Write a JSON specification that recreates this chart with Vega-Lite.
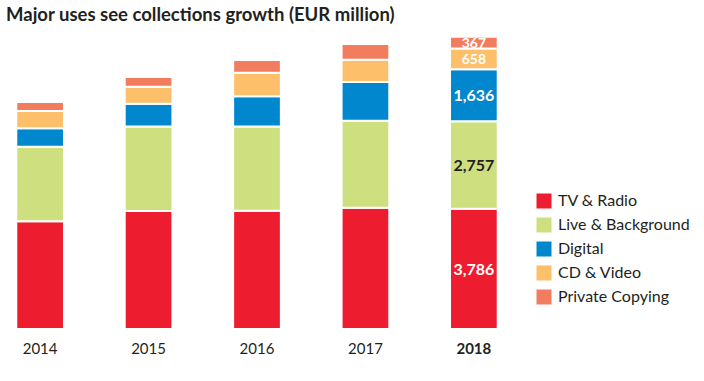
{
  "$schema": "https://vega.github.io/schema/vega-lite/v6.json",
  "width": 514,
  "height": 300,
  "autosize": {"type": "none"},
  "padding": {"left": 0, "top": 29, "right": 190, "bottom": 52},
  "background": "white",
  "config": {"view": {"stroke": null}, "font": "Lato"},
  "title": {"text": "Major uses see collections growth (EUR million)", "anchor": "start", "frame": "bounds", "fontSize": 18.5, "fontWeight": "bold", "color": "#231F20", "dx": 6, "offset": 5},
  "data": {"values": [
    {"year": "2014", "use": "TV & Radio", "value": 3393},
    {"year": "2014", "use": "Live & Background", "value": 2350},
    {"year": "2014", "use": "Digital", "value": 580},
    {"year": "2014", "use": "CD & Video", "value": 545},
    {"year": "2014", "use": "Private Copying", "value": 284},
    {"year": "2015", "use": "TV & Radio", "value": 3717},
    {"year": "2015", "use": "Live & Background", "value": 2662},
    {"year": "2015", "use": "Digital", "value": 718},
    {"year": "2015", "use": "CD & Video", "value": 536},
    {"year": "2015", "use": "Private Copying", "value": 305},
    {"year": "2016", "use": "TV & Radio", "value": 3723},
    {"year": "2016", "use": "Live & Background", "value": 2655},
    {"year": "2016", "use": "Digital", "value": 954},
    {"year": "2016", "use": "CD & Video", "value": 740},
    {"year": "2016", "use": "Private Copying", "value": 400},
    {"year": "2017", "use": "TV & Radio", "value": 3821},
    {"year": "2017", "use": "Live & Background", "value": 2740},
    {"year": "2017", "use": "Digital", "value": 1219},
    {"year": "2017", "use": "CD & Video", "value": 699},
    {"year": "2017", "use": "Private Copying", "value": 498},
    {"year": "2018", "use": "TV & Radio", "value": 3786},
    {"year": "2018", "use": "Live & Background", "value": 2757},
    {"year": "2018", "use": "Digital", "value": 1636},
    {"year": "2018", "use": "CD & Video", "value": 658},
    {"year": "2018", "use": "Private Copying", "value": 367}
  ]},
  "transform": [
    {"calculate": "indexof(['TV & Radio','Live & Background','Digital','CD & Video','Private Copying'], datum.use)", "as": "rank"}
  ],
  "layer": [
    {
      "mark": {"type": "bar", "stroke": "white", "strokeWidth": 2},
      "encoding": {
        "x": {"field": "year", "type": "ordinal", "scale": {"paddingInner": 0.56, "paddingOuter": 0.15},
          "axis": {"title": null, "domain": false, "ticks": false, "labelAngle": 0, "labelFontSize": 15, "labelColor": "#231F20", "labelPadding": 12,
            "labelFontWeight": {"condition": {"test": "datum.value == '2018'", "value": "bold"}, "value": "normal"}}},
        "y": {"field": "value", "type": "quantitative", "stack": "zero", "scale": {"domain": [0, 9450], "nice": false}, "axis": null},
        "color": {"field": "use", "type": "nominal",
          "scale": {"domain": ["TV & Radio", "Live & Background", "Digital", "CD & Video", "Private Copying"],
                    "range": ["#ED1C2E", "#CEDF80", "#0087CD", "#FDBF6A", "#F27D5E"]},
          "legend": {"title": null, "orient": "none", "legendX": 536, "legendY": 164, "symbolType": "square", "symbolSize": 225, "symbolStrokeWidth": 0, "symbolOpacity": 1,
            "labelFontSize": 16, "labelColor": "#231F20", "labelOffset": 6, "rowPadding": 8}},
        "order": {"field": "rank", "type": "quantitative"}
      }
    },
    {
      "transform": [
        {"filter": "datum.year == '2018'"},
        {"stack": "value", "groupby": ["year"], "sort": [{"field": "rank"}], "as": ["y0", "y1"]},
        {"calculate": "(datum.y0 + datum.y1) / 2", "as": "mid"}
      ],
      "mark": {"type": "text", "fontWeight": "bold", "baseline": "middle", "dy": 1},
      "encoding": {
        "x": {"field": "year", "type": "ordinal"},
        "y": {"field": "mid", "type": "quantitative"},
        "text": {"field": "value", "type": "quantitative", "format": ","},
        "size": {"condition": {"test": "datum.value < 1000", "value": 14}, "value": 16},
        "color": {"condition": {"test": "datum.use == 'Live & Background'", "value": "#231F20"}, "value": "white"}
      }
    }
  ]
}
